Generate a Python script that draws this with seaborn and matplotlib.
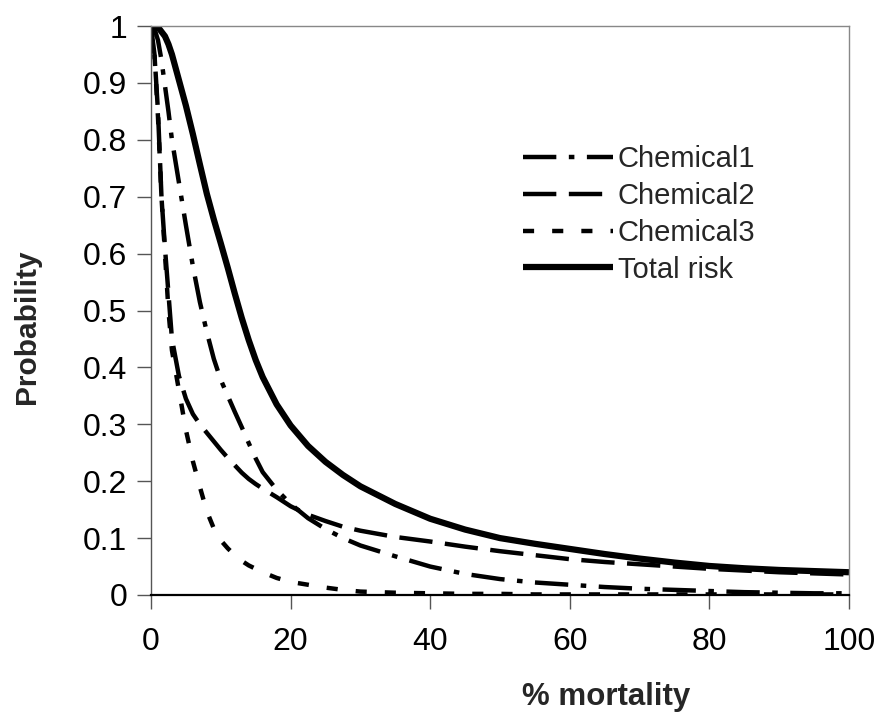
import matplotlib
matplotlib.use("Agg")
import matplotlib.pyplot as plt
import seaborn as sns
import pandas as pd

# ---------------- data ----------------
mortality = [0, 0.5, 1, 1.5, 2, 2.5, 3, 4, 5, 6, 7, 8, 9, 10, 11, 12, 13, 14, 15, 16,
             18, 20, 22.5, 25, 27.5, 30, 35, 40, 45, 50, 55, 60, 65, 70, 75, 80, 85,
             90, 95, 100]

chemical1 = [1.0, 0.995, 0.975, 0.94, 0.895, 0.85, 0.80, 0.725, 0.65, 0.578, 0.515, 0.462,
             0.415, 0.378, 0.35, 0.322, 0.295, 0.267, 0.24, 0.216,
             0.185, 0.16, 0.135, 0.116, 0.10, 0.087, 0.068, 0.05, 0.037, 0.028, 0.022,
             0.018, 0.014, 0.011, 0.009, 0.007, 0.005, 0.004, 0.003, 0.003]

chemical2 = [1.0, 0.95, 0.85, 0.70, 0.61, 0.53, 0.45, 0.385, 0.345, 0.318, 0.30, 0.285,
             0.27, 0.255, 0.241, 0.228, 0.215, 0.204, 0.195, 0.187,
             0.172, 0.156, 0.141, 0.13, 0.12, 0.113, 0.102, 0.094, 0.085, 0.077, 0.07,
             0.063, 0.058, 0.054, 0.05, 0.046, 0.043, 0.04, 0.038, 0.036]

chemical3 = [1.0, 0.95, 0.84, 0.70, 0.60, 0.50, 0.43, 0.36, 0.29, 0.235, 0.19, 0.147,
             0.117, 0.096, 0.082, 0.07, 0.06, 0.052, 0.046, 0.04,
             0.03, 0.023, 0.018, 0.013, 0.009, 0.006, 0.004, 0.003, 0.002, 0.002, 0.001,
             0.001, 0.001, 0.001, 0.001, 0.001, 0.001, 0.001, 0.001, 0.001]

total_risk = [1.0, 1.0, 0.998, 0.99, 0.982, 0.968, 0.95, 0.905, 0.86, 0.81, 0.757, 0.705,
              0.66, 0.618, 0.575, 0.53, 0.487, 0.448, 0.413, 0.383,
              0.335, 0.298, 0.262, 0.234, 0.211, 0.191, 0.16, 0.134, 0.115, 0.10, 0.09,
              0.081, 0.072, 0.064, 0.057, 0.051, 0.047, 0.044, 0.042, 0.04]

series_names = ["Chemical1", "Chemical2", "Chemical3", "Total risk"]
x_ticks = [0, 20, 40, 60, 80, 100]
y_ticks = [0, 0.1, 0.2, 0.3, 0.4, 0.5, 0.6, 0.7, 0.8, 0.9, 1.0]
y_tick_labels = ["0", "0.1", "0.2", "0.3", "0.4", "0.5", "0.6", "0.7", "0.8", "0.9", "1"]
x_label = "% mortality"
y_label = "Probability"

# ---------------- style ----------------
sns.set_style("white")
plt.rcParams["font.family"] = ["Liberation Sans", "DejaVu Sans"]
plt.rcParams["lines.scale_dashes"] = False

fig = plt.figure(figsize=(8.77, 7.15), dpi=100)
ax = fig.add_axes([151 / 877, 1 - 595 / 715, (849 - 151) / 877, (595 - 26) / 715])

df = pd.DataFrame({
    "mortality": mortality * 4,
    "prob": chemical1 + chemical2 + chemical3 + total_risk,
    "series": sum([[n] * len(mortality) for n in series_names], []),
})

styles = {
    "Chemical1": dict(linestyle=(0, (24, 9, 4, 9)), lw=3.2),
    "Chemical2": dict(linestyle=(0, (24, 9)), lw=3.2),
    "Chemical3": dict(linestyle=(0, (8, 13)), lw=3.2),
    "Total risk": dict(linestyle="-", lw=4.5),
}

for name in series_names:
    sub = df[df["series"] == name]
    sns.lineplot(data=sub, x="mortality", y="prob", ax=ax, color="black",
                 label=name, estimator=None, sort=False,
                 solid_capstyle="butt", dash_capstyle="butt", **styles[name])

ax.set_xlim(0, 100)
ax.set_ylim(0, 1)
ax.set_xticks(x_ticks)
ax.set_xticklabels([str(t) for t in x_ticks])
ax.set_yticks(y_ticks)
ax.set_yticklabels(y_tick_labels)

ax.tick_params(axis="both", which="major", direction="out", length=10, width=1,
               color="#555555", labelsize=23, labelcolor="black",
               bottom=True, left=True)
ax.tick_params(axis="x", pad=13)
ax.tick_params(axis="y", pad=7)

for side in ["top", "right"]:
    ax.spines[side].set_color("#888888")
    ax.spines[side].set_linewidth(1.0)
ax.spines["left"].set_color("#555555")
ax.spines["left"].set_linewidth(1.0)
ax.spines["bottom"].set_color("black")
ax.spines["bottom"].set_linewidth(1.6)

ax.set_xlabel(x_label, fontsize=22.5, fontweight="bold")
ax.set_ylabel(y_label, fontsize=21.5, fontweight="bold")
ax.xaxis.set_label_coords((606 - 151) / 698, (595 - 697) / 569)
ax.xaxis.label.set_va("center")
ax.yaxis.set_label_coords((27 - 151) / 698, (595 - 327) / 569)
ax.yaxis.label.set_va("center")

leg = ax.legend(loc="center left", bbox_to_anchor=(523 / 877, 1 - 214.5 / 715),
                bbox_transform=fig.transFigure, frameon=False, fontsize=21,
                handlelength=3.08, handletextpad=0.17, labelspacing=0.30,
                borderpad=0, borderaxespad=0)

fig.savefig("out.png", dpi=100)
